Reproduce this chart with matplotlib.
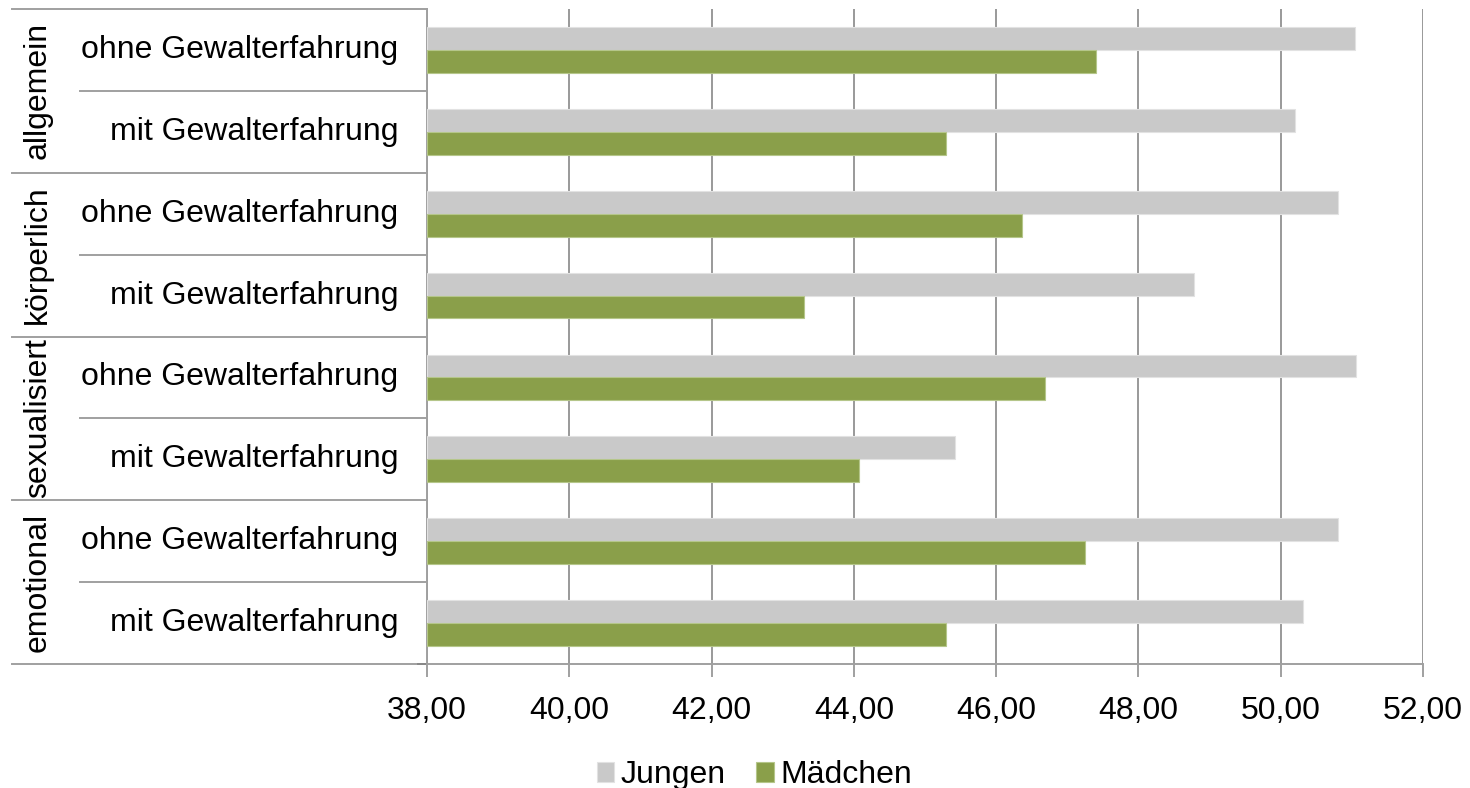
import matplotlib
matplotlib.use("Agg")
import matplotlib.pyplot as plt
import matplotlib.transforms as mtransforms
import numpy as np

plt.rcParams['font.family'] = ['Liberation Sans', 'DejaVu Sans']

# data, top to bottom
groups = ["allgemein", "körperlich", "sexualisiert", "emotional"]
sub_labels = ["ohne Gewalterfahrung", "mit Gewalterfahrung"] * 4
jungen = [51.04, 50.20, 50.80, 48.78, 51.06, 45.42, 50.80, 50.32]
maedchen = [47.40, 45.30, 46.36, 43.30, 46.69, 44.07, 47.25, 45.29]
xticks = [38, 40, 42, 44, 46, 48, 50, 52]

GRAY = "#c9c9c9"
GREEN = "#8a9f4a"
LINE = "#a0a0a0"
FS = 23

fig = plt.figure(figsize=(14.7, 7.88), dpi=100)
ax = fig.add_axes([427 / 1470, 1 - 664 / 788, 996 / 1470, 655 / 788])

y = np.arange(len(jungen))
h = 0.28
ax.barh(y - h / 2, np.array(jungen) - 38, left=38, height=h, color=GRAY,
        edgecolor="#e2e2e2", linewidth=0.8, label="Jungen", zorder=3)
ax.barh(y + h / 2, np.array(maedchen) - 38, left=38, height=h, color=GREEN,
        edgecolor="#b5c68a", linewidth=0.8, label="Mädchen", zorder=3)

ax.set_xlim(38, 52)
ax.set_ylim(len(jungen) - 0.5, -0.5)
ax.set_xticks(xticks)
ax.set_xticklabels(["%.2f" % v for v in xticks])
ax.xaxis.set_major_formatter(matplotlib.ticker.FuncFormatter(lambda v, p: ("%.2f" % v).replace(".", ",")))
ax.set_yticks([])
ax.tick_params(axis="x", labelsize=FS, length=9, width=1.4, color=LINE, pad=14)
ax.grid(axis="x", color="#999999", linewidth=1.4, zorder=0)

for side in ["top", "right"]:
    ax.spines[side].set_visible(False)
for side in ["left", "bottom"]:
    ax.spines[side].set_color(LINE)
    ax.spines[side].set_linewidth(1.4)

# category labels on the left
trans = mtransforms.blended_transform_factory(ax.transAxes, ax.transData)
x_outer = (12 - 427) / 996
x_inner = (80 - 427) / 996
for i, lab in enumerate(sub_labels):
    ax.text(-0.029, i, lab, transform=trans, ha="right", va="center", fontsize=FS, clip_on=False)
for k, g in enumerate(groups):
    ax.text((38 - 427) / 996, 2 * k + 0.5, g, transform=trans, ha="center", va="center",
            rotation=90, fontsize=FS, clip_on=False)
for b in np.arange(-0.5, len(jungen), 1.0):
    x0 = x_outer if int(b + 0.5) % 2 == 0 else x_inner
    ax.plot([x0, 0], [b, b], transform=trans, color=LINE, linewidth=1.4, clip_on=False)
ax.plot([-9 / 996, 0], [7.5, 7.5], transform=trans, color="#888888", linewidth=1.4, clip_on=False)

fig.legend(loc="center", bbox_to_anchor=(0.513, 0.016), ncol=2, frameon=False, fontsize=FS,
           handlelength=0.55, handleheight=0.55, handletextpad=0.2, columnspacing=0.95,
           borderpad=0)

fig.savefig("out.png", dpi=100, facecolor="white")
